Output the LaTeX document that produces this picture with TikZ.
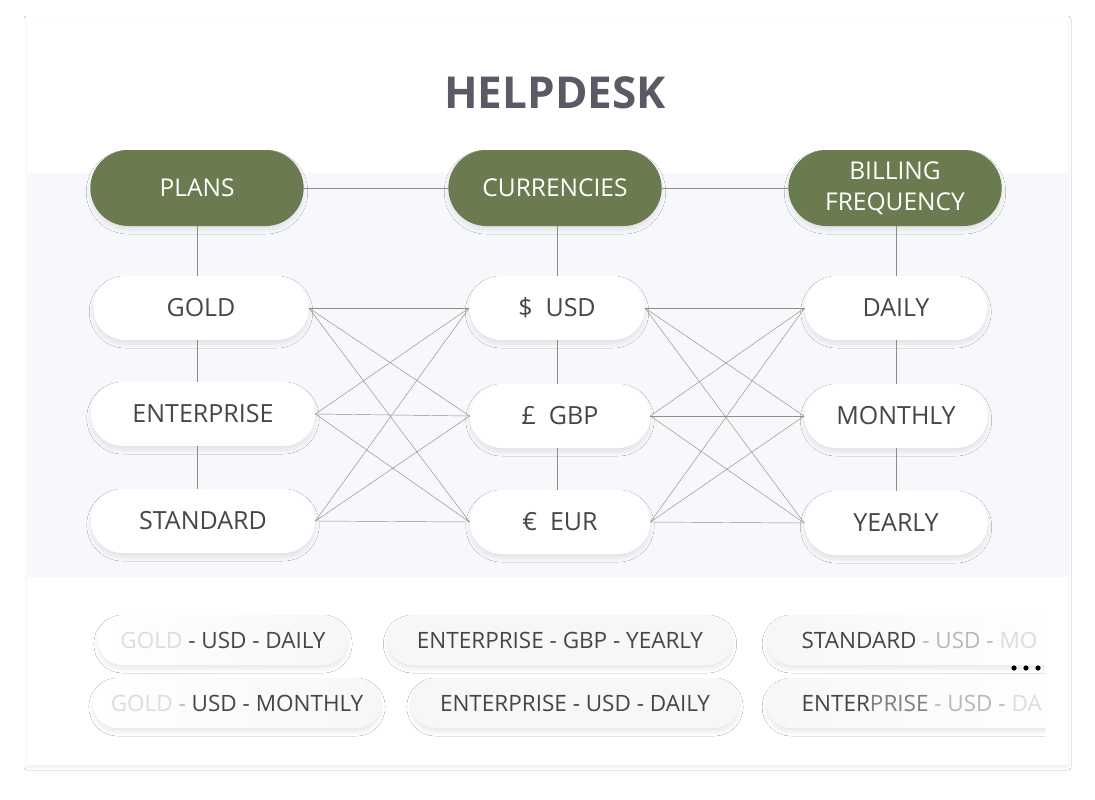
\documentclass[tikz,border=0pt]{standalone}
\usepackage{fontspec}
\setmainfont{Open Sans}
\usepackage{xcolor}
\usetikzlibrary{shapes.misc,shadows.blur}
\definecolor{xanhreu}{HTML}{6B7B50}
\definecolor{tieude}{HTML}{5A5A66}
\definecolor{chu}{HTML}{45454A}
\definecolor{nhat}{HTML}{DCDCDC}
\definecolor{vua}{HTML}{B8B8BC}
\definecolor{nenbang}{HTML}{F7F8FB}
\definecolor{nenthe}{HTML}{F7F7F8}
\definecolor{duong}{HTML}{8E8E7E}
\tikzset{
	bong/.style={blur shadow={shadow blur steps=10, shadow blur radius=4pt, shadow xshift=0pt, shadow yshift=-4pt, shadow opacity=9}},
	dau/.style={rounded rectangle, fill=xanhreu, text=white, minimum width=220pt, minimum height=76pt, align=center, font=\fontsize{24.5}{31}\selectfont, bong},
	muc/.style={rounded rectangle, fill=white, text=chu, minimum height=64pt, font=\fontsize{25}{28}\selectfont, bong},
	the/.style={rounded rectangle, text=chu, minimum height=50pt, font=\fontsize{22.5}{26}\selectfont, bong},
	noi/.style={draw=duong, line width=0.6pt},
	cheo/.style={draw=duong, line width=0.45pt}
}
\begin{document}
\begin{tikzpicture}[x=1pt,y=-1pt]
			\useasboundingbox (0,0) rectangle (1095,800);
			% Vẽ nền
			\fill [white] (0,0) rectangle (1095,800);
			\fill [white, blur shadow={shadow blur steps=8, shadow blur radius=3pt, shadow xshift=0pt, shadow yshift=-2pt, shadow opacity=8}] (27,17) rectangle (1068,765);
			\fill [nenbang] (27,173) rectangle (1068,577);
			% Vẽ tiêu đề
			\node [text=tieude, font=\fontsize{44}{50}\selectfont\bfseries] (helpdesk) at (555,93) {HELPDESK};
			% Vẽ các nút đầu
			\node [dau] (plans) at (197,188) {PLANS};
			\node [dau] (currencies) at (555,188) {CURRENCIES};
			\node [dau] (billing) at (895,188) {BILLING\\FREQUENCY};
			% Vẽ các mục
			\node [muc, minimum width=222pt] (gold) at (201,308) {GOLD};
			\node [muc, minimum width=231pt] (enterprise) at (203,414) {ENTERPRISE};
			\node [muc, minimum width=231pt] (standard) at (203,521) {STANDARD};
			\node [muc, minimum width=182pt] (usd) at (557,308) {\$\ \ USD};
			\node [muc, minimum width=187pt] (gbp) at (560,416) {£\ \ GBP};
			\node [muc, minimum width=187pt] (eur) at (560,522) {€\ \ EUR};
			\node [muc, minimum width=189pt] (daily) at (896,308) {DAILY};
			\node [muc, minimum width=190pt] (monthly) at (896,416) {MONTHLY};
			\node [muc, minimum width=190pt] (yearly) at (896,523) {YEARLY};
			% Vẽ đường nối
			\draw [noi] (plans.east) -- (currencies.west);
			\draw [noi] (currencies.east) -- (billing.west);
			\draw [noi] (gold.north -| plans.south) -- (plans.south);
			\draw [noi] (gold.south -| plans.south) -- (enterprise.north -| plans.south);
			\draw [noi] (enterprise.south -| plans.south) -- (standard.north -| plans.south);
			\draw [noi] (usd.north) -- (currencies.south -| usd.north);
			\draw [noi] (usd.south) -- (gbp.north -| usd.south);
			\draw [noi] (gbp.south -| usd.south) -- (eur.north -| usd.south);
			\draw [noi] (daily.north) -- (billing.south -| daily.north);
			\draw [noi] (daily.south) -- (monthly.north -| daily.south);
			\draw [noi] (monthly.south) -- (yearly.north -| daily.south);
			\foreach \a in {gold,enterprise,standard}
			\foreach \b in {usd,gbp,eur}
			\draw [cheo] (\a.east) -- (\b.west);
			\foreach \a in {usd,gbp,eur}
			\foreach \b in {daily,monthly,yearly}
			\draw [cheo] (\a.east) -- (\b.west);
			% Vẽ các tổ hợp
			\node [the, left color=white, right color=nenthe, minimum width=257pt] (t1) at (223,640)
				{\textcolor{nhat}{GOLD} - USD - DAILY};
			\node [the, fill=nenthe, minimum width=352pt] (t2) at (560,640)
				{ENTERPRISE - GBP - YEARLY};
			\node [the, left color=white, right color=nenthe, minimum width=295pt] (t4) at (237,703)
				{\textcolor{nhat}{GOLD} \textcolor{vua}{-} USD - MONTHLY};
			\node [the, fill=nenthe, minimum width=335pt] (t5) at (575,703)
				{ENTERPRISE - USD - DAILY};
			\begin{scope}
				\clip (700,600) rectangle (1045,745);
				\node [the, left color=nenthe, right color=white, anchor=west, inner xsep=34pt] (t3) at (766,640)
					{STANDARD \textcolor{vua}{- USD -} \textcolor{nhat}{MO}};
				\node [the, left color=nenthe, right color=white, anchor=west, inner xsep=34pt] (t6) at (766,703)
					{ENTER\textcolor{gray}{PRISE} \textcolor{vua}{- USD -} \textcolor{nhat}{DA}};
			\end{scope}
			\foreach \x in {1014,1026,1038}
			\fill [black] (\x,668) circle (2.6);
		\end{tikzpicture}
\end{document}
